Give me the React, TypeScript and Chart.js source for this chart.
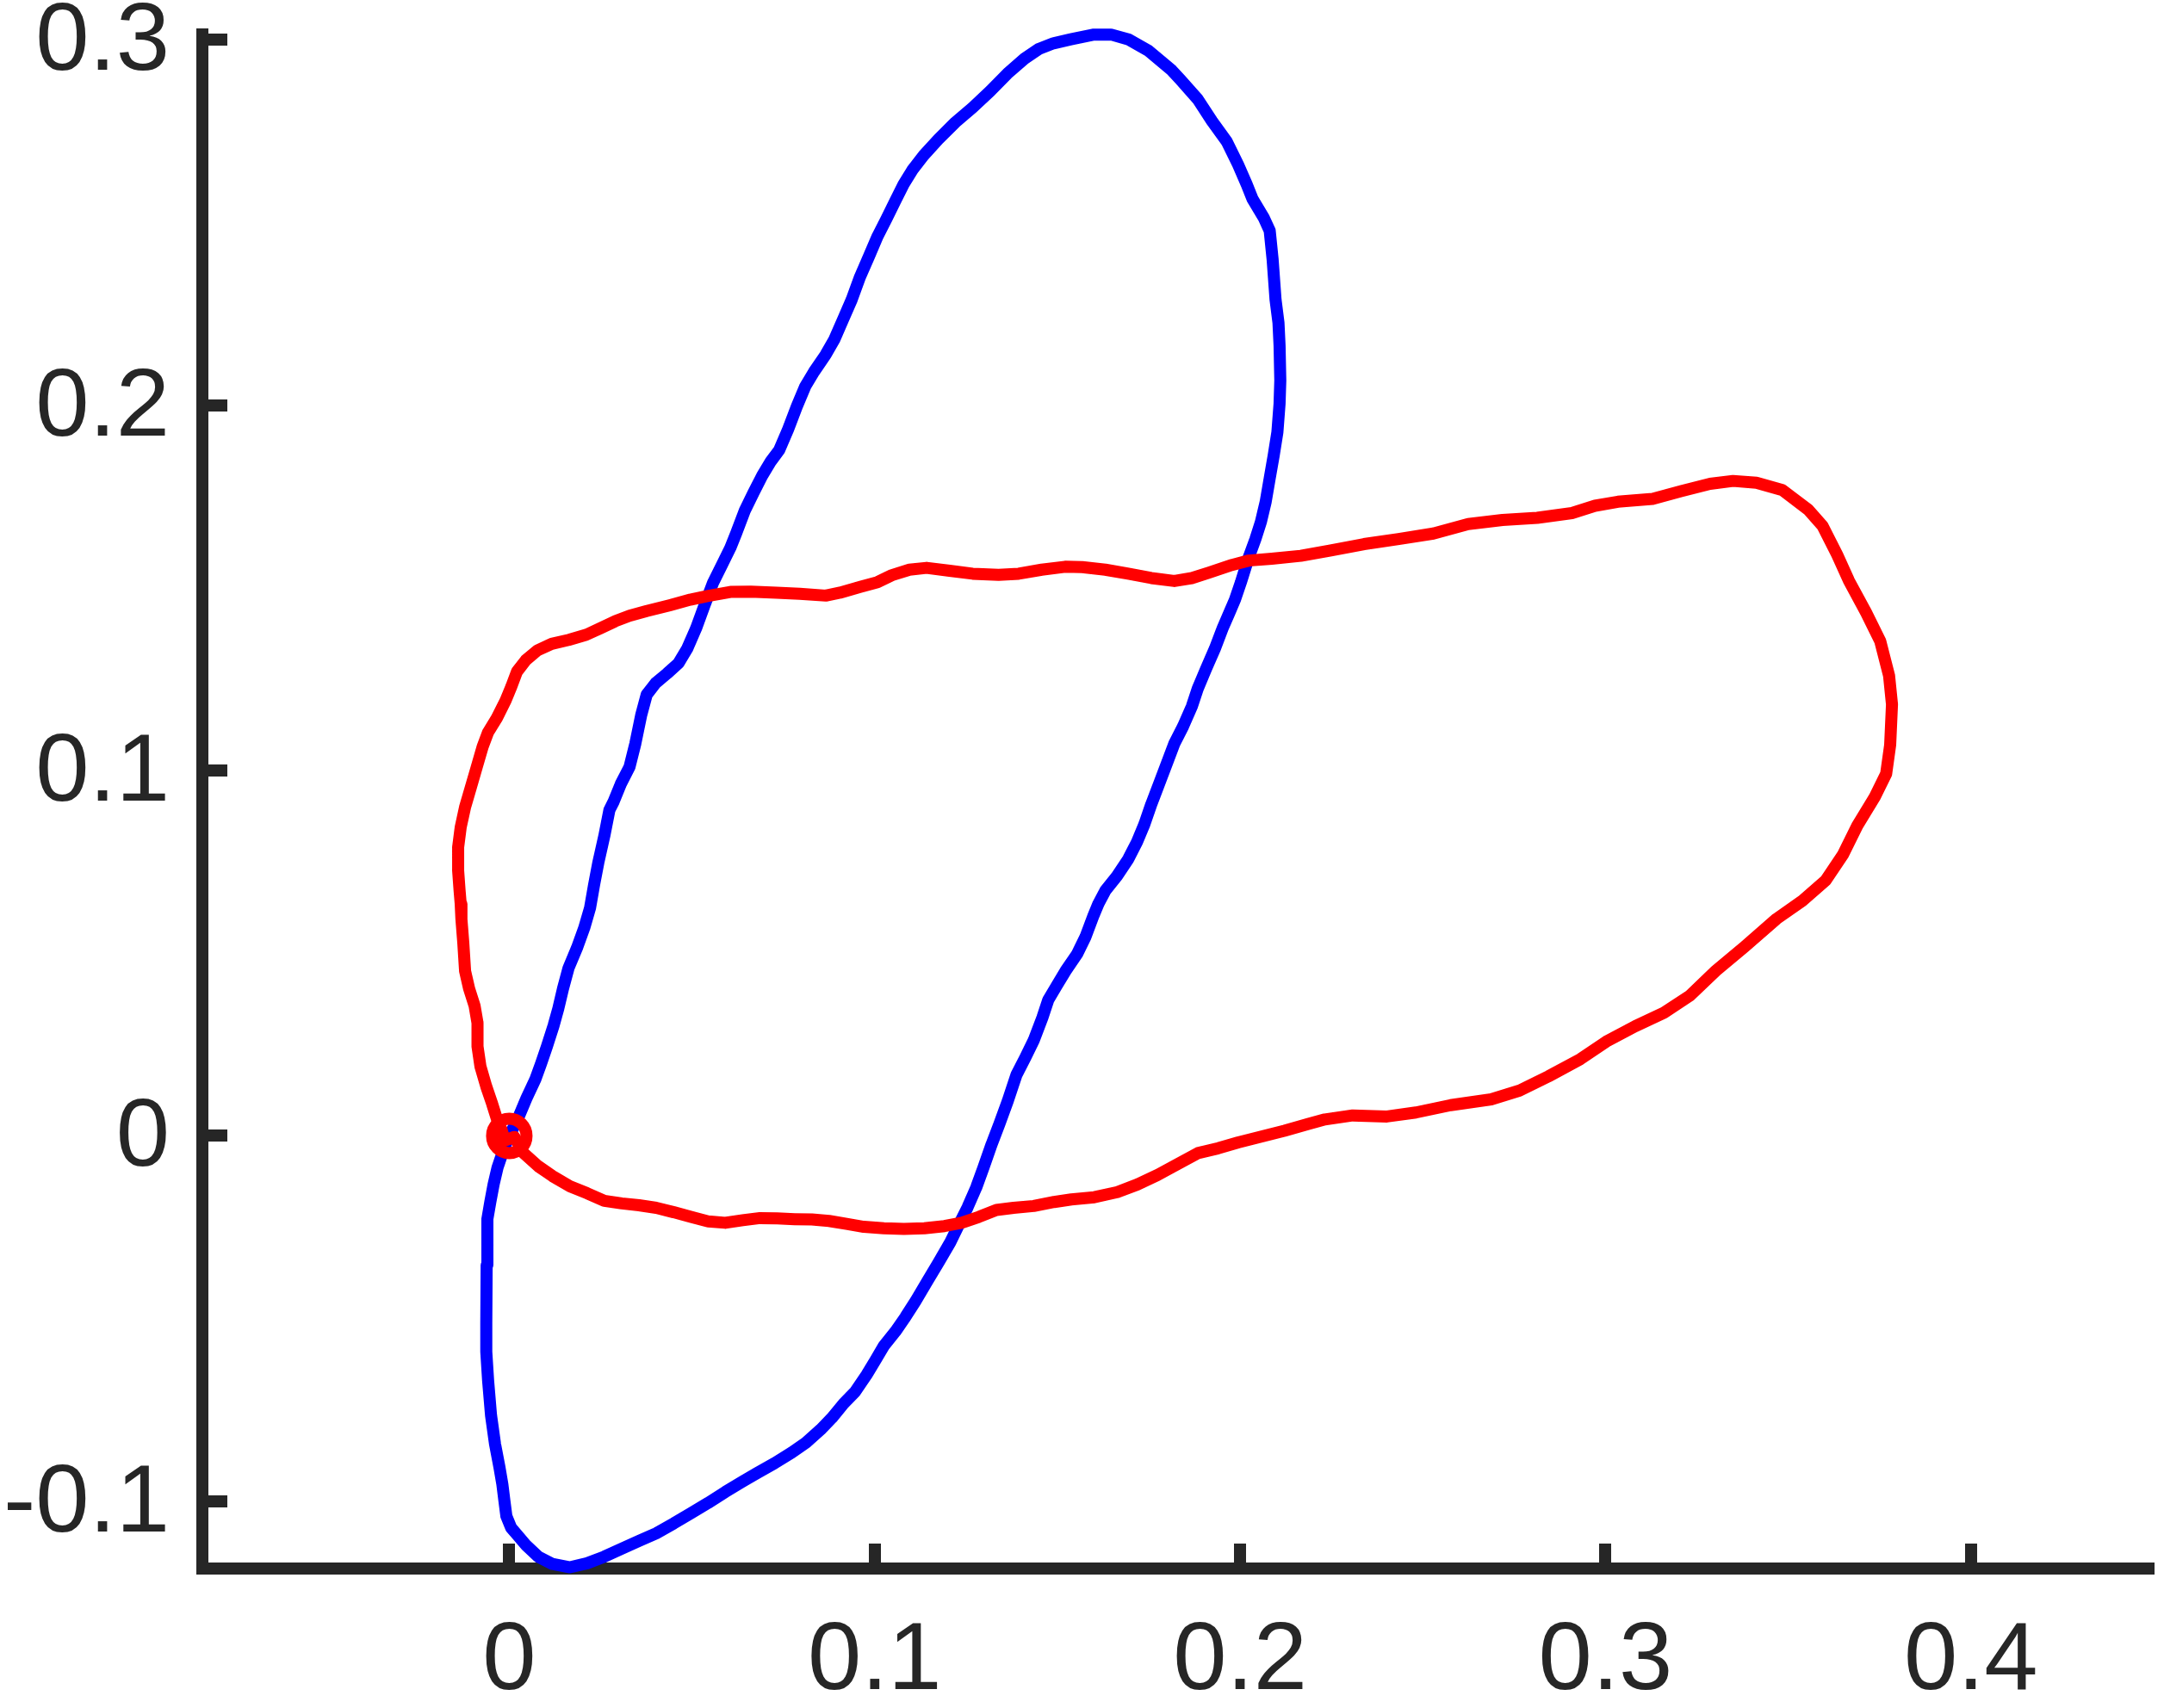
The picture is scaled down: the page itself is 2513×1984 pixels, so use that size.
import React, { useEffect, useRef } from 'react';
import Chart from 'chart.js/auto';

// Blue closed curve (x, y)
const blueX = [
  0, 0.0024, 0.0047, 0.0071, 0.0087, 0.0103, 0.0121, 0.0134, 0.0147, 0.0162,
  0.0185, 0.0205, 0.0221, 0.0232, 0.0244, 0.0260, 0.0274, 0.0286, 0.0305, 0.0329,
  0.0345, 0.0361, 0.0376, 0.0400, 0.0432, 0.0463, 0.0487, 0.0511, 0.0534, 0.0558,
  0.0582, 0.0605, 0.0621, 0.0645, 0.0668, 0.0692, 0.0716, 0.0739, 0.0763, 0.0787,
  0.0810, 0.0834, 0.0866, 0.0889, 0.0913, 0.0937, 0.0960, 0.0984, 0.1008, 0.1032,
  0.1055, 0.1079, 0.1103, 0.1134, 0.1174, 0.1221, 0.1268, 0.1316, 0.1363, 0.1410,
  0.1450, 0.1489, 0.1537, 0.1600, 0.1647, 0.1694, 0.1749, 0.1813, 0.1836, 0.1884,
  0.1923, 0.1963, 0.1994, 0.2018, 0.2034, 0.2065, 0.2081, 0.2089, 0.2097, 0.2105,
  0.2108, 0.2110, 0.2108, 0.2102, 0.2092, 0.2081, 0.2070, 0.2057, 0.2042, 0.2023,
  0.2002, 0.1986, 0.1971, 0.1952, 0.1931, 0.1907, 0.1884, 0.1868, 0.1844, 0.1820,
  0.1802, 0.1781, 0.1757, 0.1738, 0.1718, 0.1694, 0.1663, 0.1631, 0.1612, 0.1598,
  0.1577, 0.1554, 0.1522, 0.1498, 0.1475, 0.1459, 0.1435, 0.1412, 0.1388, 0.1364,
  0.1341, 0.1320, 0.1298, 0.1278, 0.1254, 0.1230, 0.1207, 0.1175, 0.1144, 0.1112,
  0.1084, 0.1057, 0.1025, 0.1002, 0.0978, 0.0946, 0.0915, 0.0883, 0.0852, 0.0812,
  0.0773, 0.0726, 0.0678, 0.0639, 0.0591, 0.0544, 0.0497, 0.0450, 0.0402, 0.0355,
  0.0308, 0.0260, 0.0213, 0.0166, 0.0118, 0.0079, 0.0047, 0.0024, 0.0005, -0.0008,
  -0.0013, -0.0019, -0.0027, -0.0039, -0.0050, -0.0058, -0.0063, -0.0063, -0.0062, -0.0060,
  -0.0052, -0.0043, -0.0032, -0.0016, 0
];
const blueY = [
  0, 0.0048, 0.0103, 0.0154, 0.0198, 0.0245, 0.0301, 0.0348, 0.0403, 0.0459,
  0.0514, 0.0569, 0.0624, 0.0687, 0.0750, 0.0821, 0.0892, 0.0916, 0.0963, 0.1010,
  0.1074, 0.1152, 0.1208, 0.1239, 0.1266, 0.1294, 0.1334, 0.1389, 0.1452, 0.1515,
  0.1563, 0.1610, 0.1650, 0.1713, 0.1760, 0.1807, 0.1847, 0.1878, 0.1934, 0.1997,
  0.2052, 0.2092, 0.2139, 0.2179, 0.2234, 0.2289, 0.2352, 0.2407, 0.2463, 0.2510,
  0.2557, 0.2605, 0.2644, 0.2684, 0.2728, 0.2775, 0.2815, 0.2860, 0.2908, 0.2949,
  0.2976, 0.2991, 0.3002, 0.3015, 0.3015, 0.3002, 0.2971, 0.2917, 0.2892, 0.2838,
  0.2778, 0.2723, 0.2660, 0.2605, 0.2565, 0.2513, 0.2478, 0.2399, 0.2289, 0.2226,
  0.2163, 0.2068, 0.2005, 0.1926, 0.1863, 0.1800, 0.1736, 0.1681, 0.1634, 0.1582,
  0.1515, 0.1468, 0.1433, 0.1389, 0.1334, 0.1279, 0.1224, 0.1176, 0.1121, 0.1074,
  0.1026, 0.0971, 0.0908, 0.0853, 0.0805, 0.0758, 0.0711, 0.0671, 0.0635, 0.0601,
  0.0545, 0.0498, 0.0451, 0.0411, 0.0372, 0.0324, 0.0261, 0.0214, 0.0167, 0.0095,
  0.0032, -0.0023, -0.0086, -0.0141, -0.0196, -0.0244, -0.0291, -0.0346, -0.0398, -0.0452,
  -0.0496, -0.0535, -0.0575, -0.0614, -0.0654, -0.0701, -0.0733, -0.0772, -0.0804, -0.0840,
  -0.0867, -0.0896, -0.0923, -0.0946, -0.0975, -0.1005, -0.1033, -0.1061, -0.1088, -0.1109,
  -0.1130, -0.1152, -0.1170, -0.1181, -0.1172, -0.1152, -0.1122, -0.1095, -0.1073, -0.1041,
  -0.1002, -0.0954, -0.0907, -0.0844, -0.0765, -0.0670, -0.0591, -0.0512, -0.0354, -0.0228,
  -0.0181, -0.0133, -0.0086, -0.0039, 0
];

// Red closed curve (x, y)
const redX = [
  -0.0013, 0.0014, 0.0039, 0.0079, 0.0118, 0.0166, 0.0213, 0.0260, 0.0308, 0.0355,
  0.0402, 0.0450, 0.0497, 0.0544, 0.0591, 0.0639, 0.0686, 0.0733, 0.0781, 0.0828,
  0.0875, 0.0923, 0.0970, 0.1025, 0.1080, 0.1136, 0.1191, 0.1238, 0.1285, 0.1333,
  0.1380, 0.1435, 0.1491, 0.1538, 0.1601, 0.1664, 0.1719, 0.1774, 0.1837, 0.1885,
  0.1940, 0.1995, 0.2058, 0.2121, 0.2185, 0.2232, 0.2308, 0.2402, 0.2481, 0.2576,
  0.2687, 0.2765, 0.2844, 0.2931, 0.3002, 0.3081, 0.3160, 0.3231, 0.3302, 0.3381,
  0.3468, 0.3539, 0.3603, 0.3650, 0.3689, 0.3737, 0.3768, 0.3779, 0.3784, 0.3776,
  0.3752, 0.3713, 0.3666, 0.3634, 0.3594, 0.3555, 0.3484, 0.3413, 0.3349, 0.3286,
  0.3207, 0.3129, 0.3034, 0.2971, 0.2908, 0.2813, 0.2718, 0.2624, 0.2529, 0.2434,
  0.2339, 0.2245, 0.2166, 0.2087, 0.2024, 0.1978, 0.1915, 0.1868, 0.1820, 0.1757,
  0.1694, 0.1631, 0.1568, 0.1521, 0.1457, 0.1394, 0.1339, 0.1268, 0.1205, 0.1142,
  0.1095, 0.1047, 0.1008, 0.0960, 0.0905, 0.0866, 0.0795, 0.0732, 0.0661, 0.0605,
  0.0542, 0.0495, 0.0440, 0.0376, 0.0329, 0.0290, 0.0250, 0.0211, 0.0163, 0.0116,
  0.0077, 0.0045, 0.0021, 0.0006, -0.0010, -0.0034, -0.0058, -0.0073, -0.0089, -0.0105,
  -0.0121, -0.0133, -0.0140, -0.0140, -0.0136, -0.0133, -0.0131, -0.0126, -0.0121, -0.0110,
  -0.0095, -0.0087, -0.0087, -0.0079, -0.0063, -0.0047, -0.0032, -0.0021, -0.0013
];
const redY = [
  -0.0013, -0.0003, -0.0047, -0.0083, -0.0110, -0.0138, -0.0157, -0.0178, -0.0185, -0.0190,
  -0.0197, -0.0209, -0.0222, -0.0234, -0.0238, -0.0231, -0.0225, -0.0226, -0.0228, -0.0229,
  -0.0233, -0.0241, -0.0249, -0.0253, -0.0255, -0.0253, -0.0247, -0.0238, -0.0222, -0.0203,
  -0.0197, -0.0192, -0.0181, -0.0174, -0.0168, -0.0154, -0.0133, -0.0107, -0.0073, -0.0047,
  -0.0034, -0.0018, -0.0002, 0.0014, 0.0032, 0.0045, 0.0056, 0.0053, 0.0064, 0.0084,
  0.0100, 0.0124, 0.0163, 0.0210, 0.0258, 0.0300, 0.0337, 0.0384, 0.0452, 0.0518,
  0.0594, 0.0644, 0.0700, 0.0770, 0.0849, 0.0928, 0.0991, 0.1070, 0.1181, 0.1260,
  0.1354, 0.1433, 0.1520, 0.1591, 0.1670, 0.1714, 0.1768, 0.1788, 0.1793, 0.1785,
  0.1765, 0.1744, 0.1736, 0.1725, 0.1705, 0.1692, 0.1686, 0.1675, 0.1649, 0.1634,
  0.1620, 0.1602, 0.1588, 0.1580, 0.1575, 0.1563, 0.1542, 0.1527, 0.1519, 0.1527,
  0.1539, 0.1550, 0.1557, 0.1558, 0.1550, 0.1539, 0.1536, 0.1539, 0.1547, 0.1555,
  0.1550, 0.1535, 0.1516, 0.1503, 0.1487, 0.1479, 0.1484, 0.1487, 0.1490, 0.1489,
  0.1478, 0.1468, 0.1453, 0.1437, 0.1424, 0.1409, 0.1390, 0.1372, 0.1358, 0.1347,
  0.1329, 0.1302, 0.1271, 0.1231, 0.1192, 0.1144, 0.1105, 0.1065, 0.1010, 0.0955,
  0.0900, 0.0845, 0.0790, 0.0726, 0.0671, 0.0635, 0.0593, 0.0530, 0.0451, 0.0403,
  0.0356, 0.0309, 0.0245, 0.0190, 0.0135, 0.0088, 0.0040, 0.0017, -0.0013
];

// Start marker
const markerX = [0];
const markerY = [0];

// Axes
const xLimits = [-0.0840, 0.4486];
const yLimits = [-0.11845, 0.30153];
const xTicks = [0, 0.1, 0.2, 0.3, 0.4];
const xTickLabels = ['0', '0.1', '0.2', '0.3', '0.4'];
const yTicks = [-0.1, 0, 0.1, 0.2, 0.3];
const yTickLabels = ['-0.1', '0', '0.1', '0.2', '0.3'];

function toPoints(xs: number[], ys: number[]) {
  return xs.map((x, i) => ({ x, y: ys[i] }));
}

function labelFor(ticks: number[], labels: string[], v: number) {
  let best = 0;
  for (let i = 1; i < ticks.length; i++) {
    if (Math.abs(ticks[i] - v) < Math.abs(ticks[best] - v)) best = i;
  }
  return labels[best];
}

export default function App() {
  const ref = useRef<HTMLCanvasElement | null>(null);

  useEffect(() => {
    const canvas = ref.current;
    if (!canvas) return;
    const axisColor = '#262626';
    const font = { family: "'Liberation Sans', Arial, Helvetica, sans-serif", size: 112, lineHeight: 1.2 };

    const chart = new Chart(canvas, {
      type: 'scatter',
      data: {
        datasets: [
          {
            label: 'start',
            data: toPoints(markerX, markerY),
            showLine: false,
            pointStyle: 'circle',
            pointRadius: 20,
            pointHoverRadius: 20,
            pointBorderWidth: 14,
            pointBorderColor: '#FF0000',
            pointBackgroundColor: 'rgba(0,0,0,0)',
            clip: false,
            order: 0,
          } as any,
          {
            label: 'red',
            data: toPoints(redX, redY),
            showLine: true,
            borderColor: '#FF0000',
            backgroundColor: '#FF0000',
            borderWidth: 14,
            pointRadius: 0,
            pointHoverRadius: 0,
            tension: 0,
            borderJoinStyle: 'round',
            borderCapStyle: 'round',
            fill: false,
            clip: false,
            order: 1,
          } as any,
          {
            label: 'blue',
            data: toPoints(blueX, blueY),
            showLine: true,
            borderColor: '#0000FF',
            backgroundColor: '#0000FF',
            borderWidth: 14,
            pointRadius: 0,
            pointHoverRadius: 0,
            tension: 0,
            borderJoinStyle: 'round',
            borderCapStyle: 'round',
            fill: false,
            clip: false,
            order: 2,
          } as any,
        ],
      },
      options: {
        responsive: false,
        animation: false,
        devicePixelRatio: 1,
        events: [],
        layout: { autoPadding: false, padding: { top: 40, right: 18, left: 0, bottom: 0 } },
        plugins: {
          legend: { display: false },
          tooltip: { enabled: false },
          title: { display: false },
        },
        scales: {
          x: {
            type: 'linear',
            position: 'bottom',
            min: xLimits[0],
            max: xLimits[1],
            afterBuildTicks: (s: any) => {
              s.ticks = xTicks.map((v) => ({ value: v }));
            },
            afterFit: (s: any) => {
              s.height = 162;
              s.paddingLeft = 0;
              s.paddingRight = 0;
              s.paddingTop = 0;
              s.paddingBottom = 0;
            },
            ticks: {
              autoSkip: false,
              maxRotation: 0,
              minRotation: 0,
              padding: 71,
              color: axisColor,
              font,
              callback: (v: any) => labelFor(xTicks, xTickLabels, Number(v)),
            },
            grid: {
              display: true,
              drawOnChartArea: false,
              drawTicks: true,
              tickLength: -29,
              tickWidth: 14,
              tickColor: axisColor,
              lineWidth: 14,
              color: axisColor,
            },
            border: { display: true, width: 14, color: axisColor },
          },
          y: {
            type: 'linear',
            position: 'left',
            min: yLimits[0],
            max: yLimits[1],
            afterBuildTicks: (s: any) => {
              s.ticks = yTicks.map((v) => ({ value: v }));
            },
            afterFit: (s: any) => {
              s.width = 235;
              s.paddingLeft = 0;
              s.paddingRight = 0;
              s.paddingTop = 0;
              s.paddingBottom = 0;
            },
            ticks: {
              autoSkip: false,
              padding: 67,
              labelOffset: 4,
              color: axisColor,
              font,
              callback: (v: any) => labelFor(yTicks, yTickLabels, Number(v)),
            },
            grid: {
              display: true,
              drawOnChartArea: false,
              drawTicks: true,
              tickLength: -29,
              tickWidth: 14,
              tickColor: axisColor,
              lineWidth: 14,
              color: axisColor,
            },
            border: { display: true, width: 14, color: axisColor },
          },
        },
      } as any,
    });

    return () => {
      chart.destroy();
    };
  }, []);

  return (
    <div style={{ position: 'fixed', left: 0, top: 0, width: 2513, height: 1984, background: '#ffffff' }}>
      <canvas ref={ref} width={2513} height={1984} style={{ display: 'block', width: 2513, height: 1984 }} />
    </div>
  );
}
